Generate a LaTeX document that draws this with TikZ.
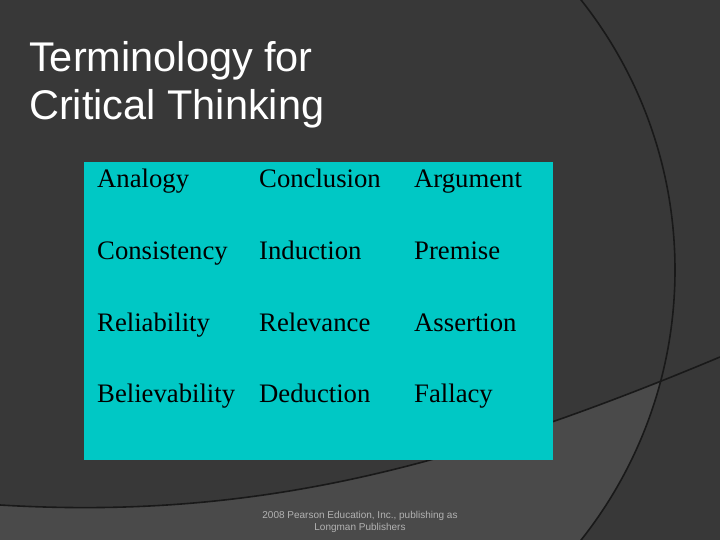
\documentclass[tikz,border=0pt]{standalone}
\usepackage{fontspec}
\setmainfont{Liberation Serif}
\newfontfamily\arialf{Liberation Sans}
\begin{document}
\begin{tikzpicture}[x=1pt,y=-1pt,
  term/.style={anchor=base west,inner sep=0pt,font=\fontsize{26.7}{30}\selectfont,text=black},
  edge/.style={draw=black!90,line width=1.6pt}]
\useasboundingbox (0,0) rectangle (720,540);
\fill[black!78] (0,0) rectangle (720,540);
\begin{scope}
\clip (240,270) circle (435);
\fill[black!71] (0,505) .. controls (250,520) and (450,470) .. (720,357) -- (720,540) -- (0,540) -- cycle;
\end{scope}
\draw[edge] (240,270) circle (435);
\coordinate (cl) at (0,505); \coordinate (cr) at (720,357);
\draw[edge] (cl) .. controls (250,520) and (450,470) .. (cr);
\node[anchor=base west,inner sep=0pt,font=\arialf\fontsize{41.5}{44}\selectfont,text=white] (title) at (29,72) {Terminology for};
\node[anchor=base west,inner sep=0pt,font=\arialf\fontsize{41.5}{44}\selectfont,text=white] (title2) at (29,120) {Critical Thinking};
\fill[fill={rgb,255:red,0;green,200;blue,197}] (84,162) rectangle (553,460);
\node[term] (a1) at (97,188) {Analogy};
\node[term] (a2) at (259,188) {Conclusion};
\node[term] (a3) at (414,188) {Argument};
\node[term] (b1) at (97,259) {Consistency};
\node[term] (b2) at (259,259) {Induction};
\node[term] (b3) at (414,259) {Premise};
\node[term] (c1) at (97,331) {Reliability};
\node[term] (c2) at (259,331) {Relevance};
\node[term] (c3) at (414,331) {Assertion};
\node[term] (d1) at (97,402) {Believability};
\node[term] (d2) at (259,402) {Deduction};
\node[term] (d3) at (414,402) {Fallacy};
\node[font=\arialf\fontsize{10}{12}\selectfont,text=black!30,align=center] (foot) at (360,522) {2008 Pearson Education, Inc., publishing as\\Longman Publishers};
\end{tikzpicture}
\end{document}
